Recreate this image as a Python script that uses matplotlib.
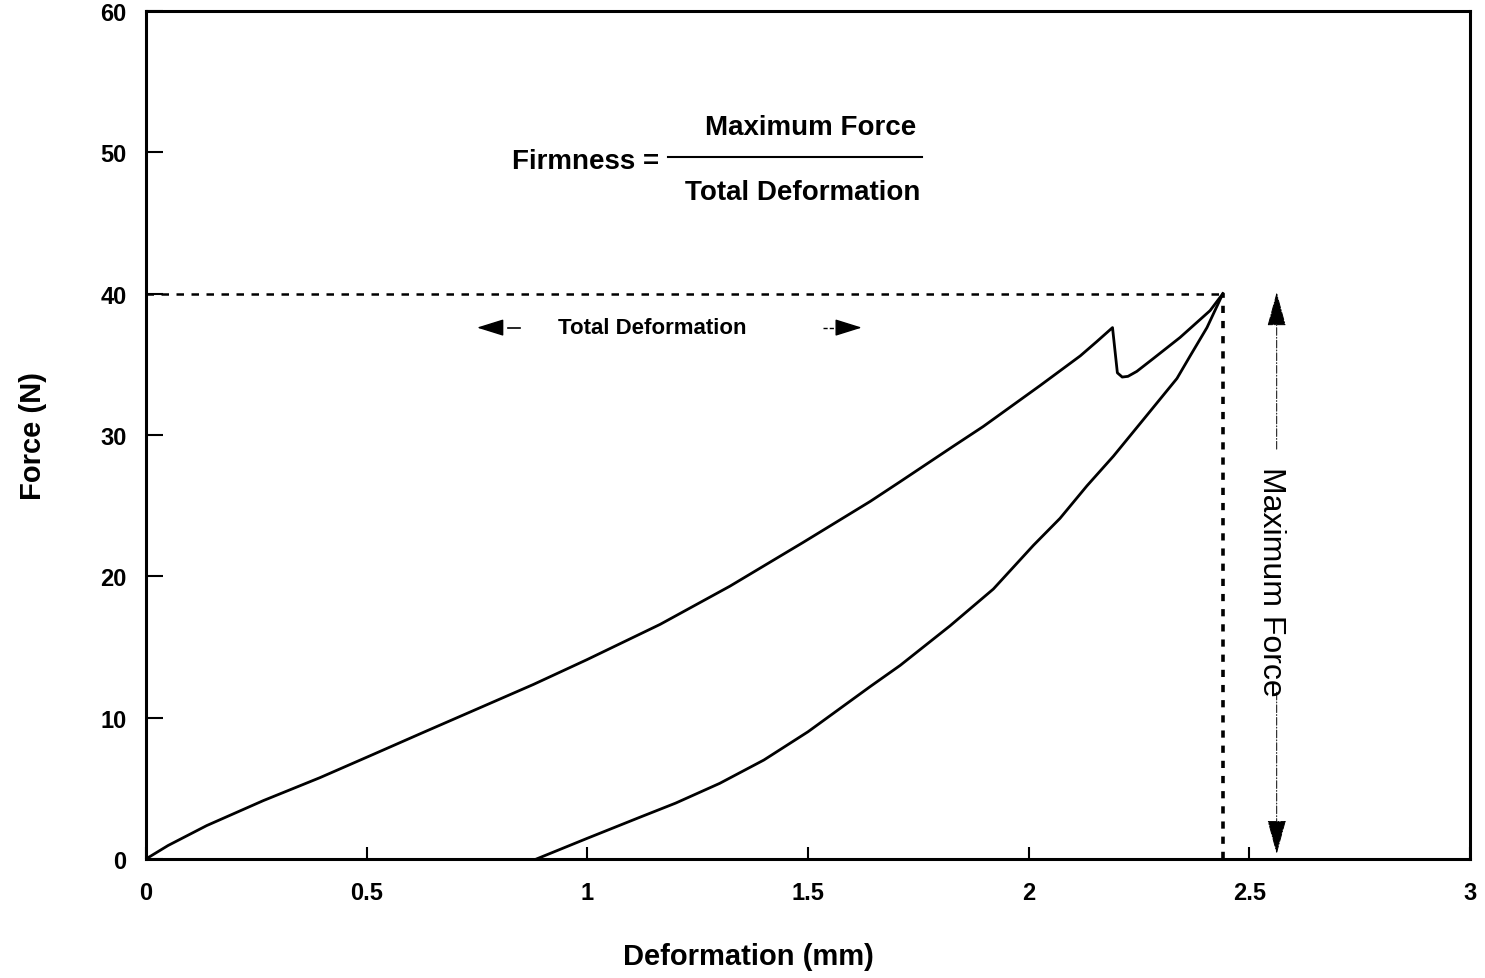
import matplotlib
matplotlib.use('Agg')
import matplotlib.pyplot as plt

plt.rcParams['font.family'] = ['Liberation Sans', 'DejaVu Sans']

# loading curve (mm, N)
load_x = [0, 0.05, 0.1375, 0.266, 0.394, 0.515, 0.628, 0.742, 0.878, 0.999, 1.165, 1.323,
          1.489, 1.641, 1.709, 1.829, 1.897, 2.026, 2.117, 2.154, 2.19, 2.201, 2.212, 2.225,
          2.245, 2.282, 2.343, 2.411, 2.44]
load_y = [0, 0.95, 2.36, 4.13, 5.75, 7.4, 8.95, 10.5, 12.35, 14.1, 16.6, 19.3,
          22.4, 25.3, 26.7, 29.2, 30.6, 33.5, 35.6, 36.6, 37.6, 34.4, 34.1, 34.15,
          34.5, 35.4, 36.9, 38.8, 40.0]

# unloading curve
unload_x = [0.885, 0.999, 1.119, 1.2, 1.3, 1.4, 1.45, 1.5, 1.641, 1.709, 1.822, 1.920, 2.011,
            2.071, 2.132, 2.192, 2.268, 2.336, 2.366, 2.404, 2.44]
unload_y = [0, 1.45, 2.95, 3.95, 5.35, 7.0, 8.0, 9.0, 12.2, 13.7, 16.5, 19.1, 22.2,
            24.1, 26.4, 28.5, 31.4, 34.0, 35.6, 37.6, 40.0]

max_force = 40.0
total_def = 2.44

xticks = [0, 0.5, 1, 1.5, 2, 2.5, 3]
xticklabels = ['0', '0.5', '1', '1.5', '2', '2.5', '3']
yticks = [0, 10, 20, 30, 40, 50, 60]

fig = plt.figure(figsize=(14.85, 9.79), dpi=100)
ax = fig.add_axes([0.0983, 0.1216, 0.8916, 0.8661])

ax.plot(load_x, load_y, color='black', lw=2.0)
ax.plot(unload_x, unload_y, color='black', lw=2.0)

# guide lines
ax.plot([0, total_def], [max_force, max_force], color='black', lw=1.8, ls=(0, (3, 3)))
ax.plot([total_def, total_def], [0, max_force], color='black', lw=2.6, ls=(0, (2, 2.2)))

# firmness formula
ax.text(1.18, 49.4, 'Firmness = ', ha='right', va='center', fontsize=20, fontweight='bold')
ax.text(1.505, 51.8, 'Maximum Force', ha='center', va='center', fontsize=20, fontweight='bold')
ax.plot([1.183, 1.758], [49.7, 49.7], color='black', lw=1.5)
ax.text(1.489, 47.2, 'Total Deformation', ha='center', va='center', fontsize=20, fontweight='bold')

# total deformation arrows: solid heads plus short dashes
head_h = dict(arrowstyle='-|>,head_length=0.8,head_width=0.25', mutation_scale=21,
              color='black', lw=1.0, shrinkA=0, shrinkB=0)
ax.text(1.147, 37.6, 'Total Deformation', ha='center', va='center', fontsize=16, fontweight='bold')
ax.annotate('', xy=(0.750, 37.6), xytext=(0.805, 37.6), arrowprops=head_h)
ax.plot([0.82, 0.848], [37.6, 37.6], color='black', lw=1.2)
ax.annotate('', xy=(1.622, 37.6), xytext=(1.568, 37.6), arrowprops=head_h)
ax.plot([1.534, 1.564], [37.6, 37.6], color='black', lw=1.0, ls=(0, (3, 1.5)))

# maximum force arrows
head_v = dict(arrowstyle='-|>,head_length=1.1,head_width=0.3', mutation_scale=20,
              color='black', lw=0.7, ls=(0, (8, 2, 1, 2)), shrinkA=0, shrinkB=0)
ax.text(2.549, 19.7, 'Maximum Force', rotation=-90, ha='center', va='center', fontsize=23)
ax.annotate('', xy=(2.562, 40.1), xytext=(2.562, 29.0), arrowprops=head_v)
ax.annotate('', xy=(2.562, 0.35), xytext=(2.562, 11.8), arrowprops=head_v)

ax.set_xlim(0, 3)
ax.set_ylim(0, 60)
ax.set_xticks(xticks)
ax.set_xticklabels(xticklabels)
ax.set_yticks(yticks)
ax.tick_params(axis='x', direction='in', length=9, width=1.5, pad=16, labelsize=17)
ax.tick_params(axis='y', direction='in', length=12, width=1.5, pad=14, labelsize=17)
for lab in ax.get_xticklabels() + ax.get_yticklabels():
    lab.set_fontweight('bold')
for sp in ax.spines.values():
    sp.set_linewidth(2.2)

fig.text(748 / 1485, 1 - 957 / 979, 'Deformation (mm)', ha='center', va='center',
         fontsize=21, fontweight='bold')
ax.set_ylabel('Force (N)', fontsize=21, fontweight='bold', labelpad=38)

fig.savefig('out.png', dpi=100)
